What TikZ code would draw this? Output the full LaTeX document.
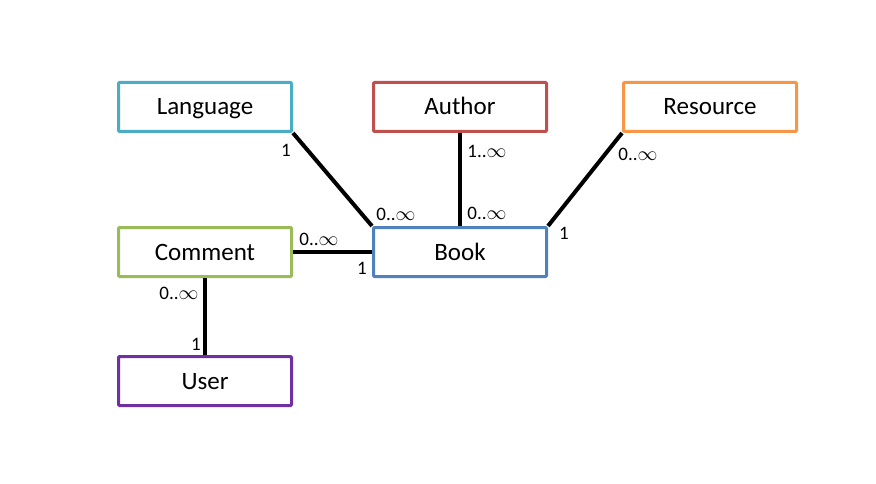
\documentclass[tikz,border=0pt]{standalone}
\usepackage{fontspec}
\setmainfont{Carlito}
\usetikzlibrary{positioning}

\definecolor{langblue}{HTML}{4BACC6}
\definecolor{authred}{HTML}{C0504D}
\definecolor{resorange}{HTML}{F79646}
\definecolor{commgreen}{HTML}{9BBB59}
\definecolor{bookblue}{HTML}{4F81BD}
\definecolor{userpurple}{HTML}{7030A0}

\newcommand{\many}{\scalebox{1.15}{$\infty$}}

\begin{document}
\begin{tikzpicture}[x=1pt, y=-1pt,
    entity/.style={draw, line width=3pt, rounded corners=1pt, minimum width=173pt,
        minimum height=49pt, inner sep=0pt, text height=19pt, text depth=3pt,
        font=\fontsize{25}{29}\selectfont},
    mult/.style={inner sep=0pt, font=\fontsize{19}{21}\selectfont},
    link/.style={line width=4pt}]
        \useasboundingbox (0,0) rectangle (876,484);

        \node[entity, draw=langblue] (lang) at (205,107) {Language};
        \node[entity, draw=authred] (auth) at (460,107) {Author};
        \node[entity, draw=resorange] (res) at (710,107) {Resource};
        \node[entity, draw=commgreen] (comm) at (205,252) {Comment};
        \node[entity, draw=bookblue] (book) at (460,252) {Book};
        \node[entity, draw=userpurple] (user) at (205,381) {User};

        \draw[link] (lang.south east) -- (book.north west);
        \draw[link] (auth.south) -- (book.north);
        \draw[link] (res.south west) -- (book.north east);
        \draw[link] (comm.east) -- (book.west);
        \draw[link] (comm.south) -- (user.north);

        % multiplicities
        \node[mult] (m-lang) at (286,150) {1};
        \node[mult] (m-booklang) at (396,214) {0..\many};
        \node[mult] (m-auth) at (487,151) {1..\many};
        \node[mult] (m-bookauth) at (487,213) {0..\many};
        \node[mult] (m-res) at (638,154) {0..\many};
        \node[mult] (m-bookres) at (564,233) {1};
        \node[mult] (m-comm) at (319,239) {0..\many};
        \node[mult] (m-bookcomm) at (362,268) {1};
        \node[mult] (m-commuser) at (179,293) {0..\many};
        \node[mult] (m-user) at (196,344) {1};
    \end{tikzpicture}
\end{document}
